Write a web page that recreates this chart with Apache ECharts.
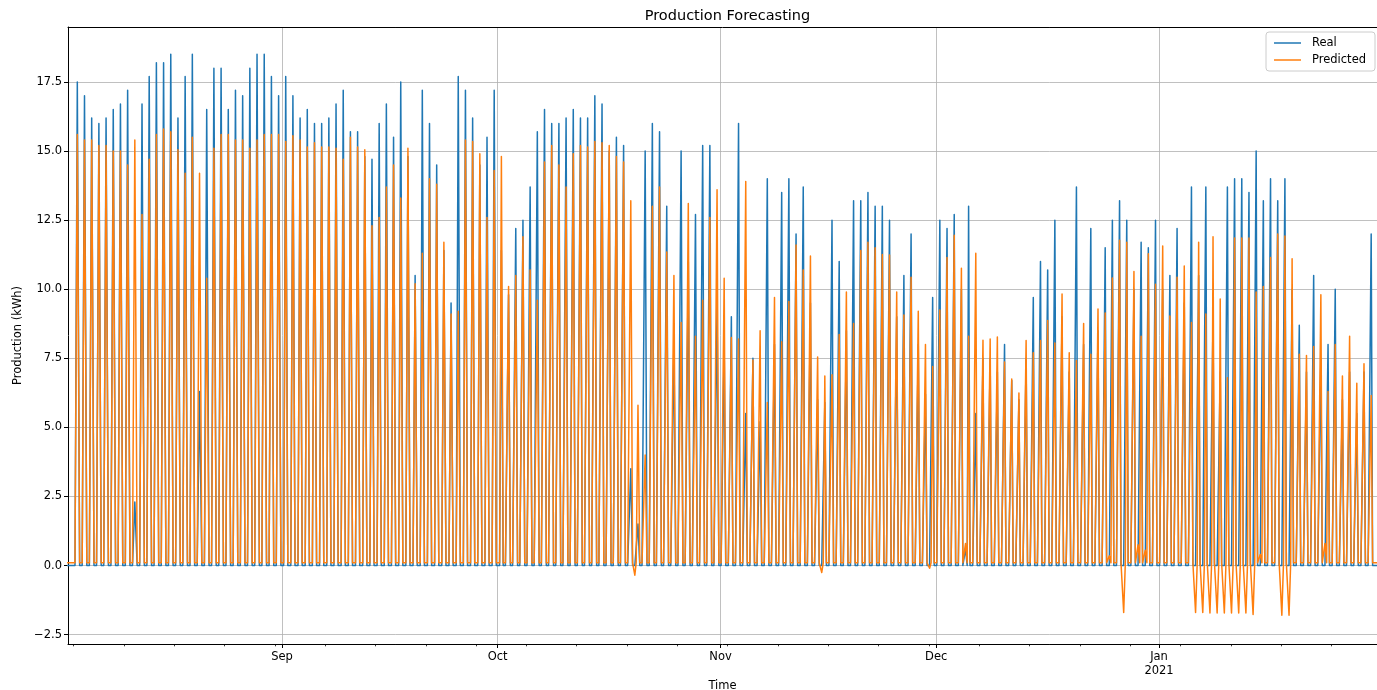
<!DOCTYPE html>
<html>
<head>
<meta charset="utf-8">
<script src="https://cdn.jsdelivr.net/npm/echarts@6/dist/echarts.min.js"></script>
<style>html,body{margin:0;padding:0;background:#fff}#c{width:1377px;height:690px}</style>
</head>
<body>
<div id="c"></div>
<script>
// ---- DATA (daily peak production, kWh; hourly series shown as daily spikes) ----
// Day 0 = 2020-08-02
const realAug = [0, 17.5, 17.0, 16.2, 16.0, 16.2, 16.5, 16.7, 17.2, 2.3, 16.7, 17.7, 18.2, 18.2, 18.5, 16.2, 17.7, 18.5, 6.3, 16.5, 18.0, 18.0, 16.5, 17.2, 17.0, 18.0, 18.5, 18.5, 17.7, 17.0];
const predAug = [0.1, 15.6, 15.4, 15.4, 15.2, 15.2, 15.0, 15.0, 14.5, 15.4, 12.7, 14.7, 15.6, 15.8, 15.7, 15.05, 14.2, 15.5, 14.2, 10.4, 15.1, 15.6, 15.6, 15.4, 15.4, 15.1, 15.4, 15.6, 15.6, 15.6];
const realSep = [17.7, 17.0, 16.2, 16.5, 16.0, 16.0, 16.2, 16.7, 17.2, 15.7, 15.7, 14.8, 14.7, 16.0, 16.7, 15.5, 17.5, 14.8, 10.5, 17.2, 16.0, 14.5, 11.4, 9.5, 17.7, 17.2, 16.2, 14.5, 15.5, 17.2];
const predSep = [15.35, 15.55, 15.4, 15.15, 15.3, 15.15, 15.15, 15.1, 14.7, 15.5, 15.15, 15.05, 12.3, 12.6, 13.7, 14.5, 13.3, 15.1, 10.2, 11.3, 14.0, 13.8, 11.7, 9.1, 9.2, 15.4, 15.35, 14.9, 12.6, 14.3];
const realOct = [11.4, 9.8, 12.2, 12.5, 13.7, 15.7, 16.5, 16.0, 16.0, 16.2, 16.5, 16.2, 16.2, 17.0, 16.7, 15.0, 15.5, 15.2, 3.5, 1.5, 15.0, 16.0, 15.7, 13.0, 8.2, 15.0, 11.0, 12.7, 15.2, 15.2, 9.5];
const predOct = [14.8, 10.1, 10.5, 11.9, 10.7, 9.6, 14.6, 15.2, 14.5, 13.7, 14.9, 15.2, 15.15, 15.35, 15.3, 15.2, 14.8, 14.6, 13.2, 5.8, 4.0, 13.0, 13.7, 11.35, 10.5, 8.8, 13.1, 8.3, 9.6, 12.6, 13.6];
const realNov = [8.0, 9.0, 16.0, 5.5, 7.5, 5.2, 14.0, 8.0, 13.5, 14.0, 12.0, 13.7, 9.5, 6.0, 5.9, 12.5, 11.0, 8.5, 13.2, 13.2, 13.5, 13.0, 13.0, 12.5, 9.0, 10.5, 12.0, 8.0, 6.2, 9.7];
const predNov = [10.4, 8.25, 8.2, 13.9, 7.44, 8.5, 5.9, 9.7, 8.1, 9.56, 11.6, 10.7, 11.2, 7.55, 6.86, 6.9, 8.36, 9.9, 8.76, 11.4, 11.7, 11.5, 11.26, 11.24, 9.9, 9.07, 10.43, 9.2, 8.0, 7.2];
const realDec = [12.5, 12.2, 12.7, 10.0, 13.0, 5.5, 7.5, 7.5, 7.0, 8.0, 6.7, 6.0, 7.5, 9.7, 11.0, 10.7, 12.5, 9.0, 7.0, 13.7, 8.0, 12.2, 8.5, 11.5, 12.5, 13.2, 12.5, 10.0, 11.7, 11.5, 12.5];
const predDec = [9.25, 11.15, 11.95, 10.76, 8.3, 11.3, 8.15, 8.2, 8.27, 7.37, 6.75, 6.24, 8.14, 7.7, 8.14, 8.87, 8.05, 9.83, 7.7, 7.42, 8.76, 7.65, 9.28, 9.14, 10.41, 11.77, 11.7, 10.64, 8.3, 11.28, 10.18];
const realJan = [10.0, 10.5, 12.2, 9.5, 13.7, 10.5, 13.7, 9.0, 7.0, 13.7, 14.0, 14.0, 13.5, 15.0, 13.2, 14.0, 13.2, 14.0, 10.0, 8.7, 7.0, 10.5, 7.5, 8.0, 10.0, 6.0, 7.0, 5.5, 7.0, 12.0];
const predJan = [11.56, 9.03, 10.43, 10.84, 8.8, 11.7, 9.1, 11.9, 9.65, 6.8, 11.85, 11.85, 11.85, 9.9, 10.1, 11.15, 12.0, 11.93, 11.1, 7.65, 7.6, 7.93, 9.8, 6.3, 8.0, 6.86, 8.3, 6.6, 7.3, 6.15];
// production window per month (start hour, end hour), Aug..Jan
const dayWindow = [[5, 20.5], [5.5, 19.5], [6.5, 18.5], [7, 17.5], [7.5, 17], [7.5, 17]];
// night-time values: default baseline plus exceptions [dayIndex, value] (night after that day)
const realNightBase = 0;
const predNightBase = 0.1;
const realNightExtra = [[124, 0.6]];
const predNightExtra = [[78, -0.35], [104, -0.25], [119, -0.1], [124, 0.8], [144, 0.35], [146, -1.7], [148, 0.75], [149, 0.55],
  [156, -1.7], [157, -1.7], [158, -1.72], [159, -1.72], [160, -1.72], [161, -1.72], [162, -1.72], [163, -1.72], [164, -1.77],
  [165, 0.4], [168, -1.8], [169, -1.8], [174, 0.8]];
const yTickValues = [-2.5, 0, 2.5, 5, 7.5, 10, 12.5, 15, 17.5];
const monthTickDates = [[2020, 8, 1], [2020, 9, 1], [2020, 10, 1], [2020, 11, 1], [2021, 0, 1]];
const monthNames = ['Jan', 'Feb', 'Mar', 'Apr', 'May', 'Jun', 'Jul', 'Aug', 'Sep', 'Oct', 'Nov', 'Dec'];

// ---- build ----
const H = 3600000, DAY = 24 * H;
const t0 = Date.UTC(2020, 7, 2);
const xMin = Date.UTC(2020, 7, 2, 5, 40);
const xMax = Date.UTC(2021, 0, 31, 7, 40);
const monthLens = [realAug.length, realSep.length, realOct.length, realNov.length, realDec.length, realJan.length];
const realPeak = [].concat(realAug, realSep, realOct, realNov, realDec, realJan);
const predPeak = [].concat(predAug, predSep, predOct, predNov, predDec, predJan);
const monthOfDay = [];
monthLens.forEach(function (n, m) { for (let i = 0; i < n; i++) monthOfDay.push(m); });

function build(peaks, base, extras) {
  const night = {};
  extras.forEach(function (e) { night[e[0]] = e[1]; });
  const pts = [];
  for (let d = 0; d < peaks.length; d++) {
    const t = t0 + d * DAY;
    const w = dayWindow[monthOfDay[d]];
    pts.push([t + 2 * H, (d - 1) in night ? night[d - 1] : base]);
    pts.push([t + w[0] * H, base]);
    pts.push([t + (w[0] + w[1]) / 2 * H, peaks[d]]);
    pts.push([t + w[1] * H, base]);
  }
  const t = t0 + peaks.length * DAY;
  pts.push([t + 2 * H, (peaks.length - 1) in night ? night[peaks.length - 1] : base]);
  pts.push([t + 8 * H, base]);
  return pts;
}

const monthTicks = monthTickDates.map(function (a) { return Date.UTC(a[0], a[1], a[2]); });
const weekTicks = [];
for (let t = Date.UTC(2020, 7, 3); t < xMax; t += 7 * DAY) weekTicks.push(t);

const FONT = 'DejaVu Sans';
const gridLine = { show: true, lineStyle: { color: '#b0b0b0', width: 0.8 } };

const chart = echarts.init(document.getElementById('c'), null, { renderer: 'canvas' });
chart.setOption({
  animation: false,
  backgroundColor: '#fff',
  title: {
    text: 'Production Forecasting', left: 722.5, textAlign: 'center', top: 4,
    textStyle: { fontFamily: FONT, fontSize: 14.5, fontWeight: 'normal', color: '#000' }
  },
  legend: {
    right: 2, top: 32, orient: 'vertical', itemWidth: 27, itemHeight: 1.5, itemGap: 3,
    icon: 'rect',
    padding: [4, 9, 4, 8], borderColor: '#cccccc', borderWidth: 1, borderRadius: 3,
    backgroundColor: 'rgba(255,255,255,0.85)',
    textStyle: { fontFamily: FONT, fontSize: 11.5, color: '#000', padding: [0, 0, 0, 6], lineHeight: 14 },
    data: ['Real', 'Predicted']
  },
  grid: { left: 68, right: 0, top: 27, bottom: 46, containLabel: false, outerBoundsMode: 'none' },
  xAxis: [
    {
      type: 'value', min: xMin, max: xMax, position: 'bottom',
      axisLine: { onZero: false, lineStyle: { color: '#000', width: 1 } },
      axisTick: { show: true, customValues: monthTicks, length: 4, lineStyle: { color: '#000', width: 1 } },
      axisLabel: {
        customValues: monthTicks, margin: 6, fontFamily: FONT, fontSize: 11.5, color: '#000', lineHeight: 14,
        formatter: function (v) {
          const dt = new Date(v);
          const m = monthNames[dt.getUTCMonth()];
          return dt.getUTCMonth() === 0 ? m + '\n' + dt.getUTCFullYear() : m;
        }
      },
      splitLine: gridLine,
      name: 'Time', nameLocation: 'middle', nameGap: 36, nameMoveOverlap: false,
      nameTextStyle: { fontFamily: FONT, fontSize: 11.5, color: '#000' }
    },
    {
      type: 'value', min: xMin, max: xMax, position: 'bottom',
      axisLine: { show: false, onZero: false },
      axisTick: { show: true, customValues: weekTicks, length: 2.3, lineStyle: { color: '#000', width: 0.8 } },
      axisLabel: { show: false }, splitLine: { show: false }
    },
    {
      type: 'value', min: xMin, max: xMax, position: 'top',
      axisLine: { show: true, onZero: false, lineStyle: { color: '#000', width: 1 } },
      axisTick: { show: false }, axisLabel: { show: false }, splitLine: { show: false }
    }
  ],
  yAxis: {
    type: 'value', min: -2.84, max: 19.49,
    axisLine: { show: true, onZero: false, lineStyle: { color: '#000', width: 1 } },
    axisTick: { show: true, customValues: yTickValues, length: 4, lineStyle: { color: '#000', width: 1 } },
    axisLabel: {
      customValues: yTickValues, margin: 6, fontFamily: FONT, fontSize: 11.5, color: '#000',
      formatter: function (v) { return v.toFixed(1).replace('-', '\u2212'); }
    },
    splitLine: gridLine,
    name: 'Production (kWh)', nameLocation: 'middle', nameGap: 44, nameRotate: 90, nameMoveOverlap: false,
    nameTextStyle: { fontFamily: FONT, fontSize: 11.5, color: '#000' }
  },
  series: [
    {
      name: 'Real', type: 'line', xAxisIndex: 0, data: build(realPeak, realNightBase, realNightExtra),
      symbol: 'none', showSymbol: false, sampling: null, color: '#1f77b4',
      lineStyle: { color: '#1f77b4', width: 1.5, join: 'round' }
    },
    {
      name: 'Predicted', type: 'line', xAxisIndex: 0, data: build(predPeak, predNightBase, predNightExtra),
      symbol: 'none', showSymbol: false, sampling: null, color: '#ff7f0e',
      lineStyle: { color: '#ff7f0e', width: 1.5, join: 'round' }
    }
  ]
});
</script>
</body>
</html>
